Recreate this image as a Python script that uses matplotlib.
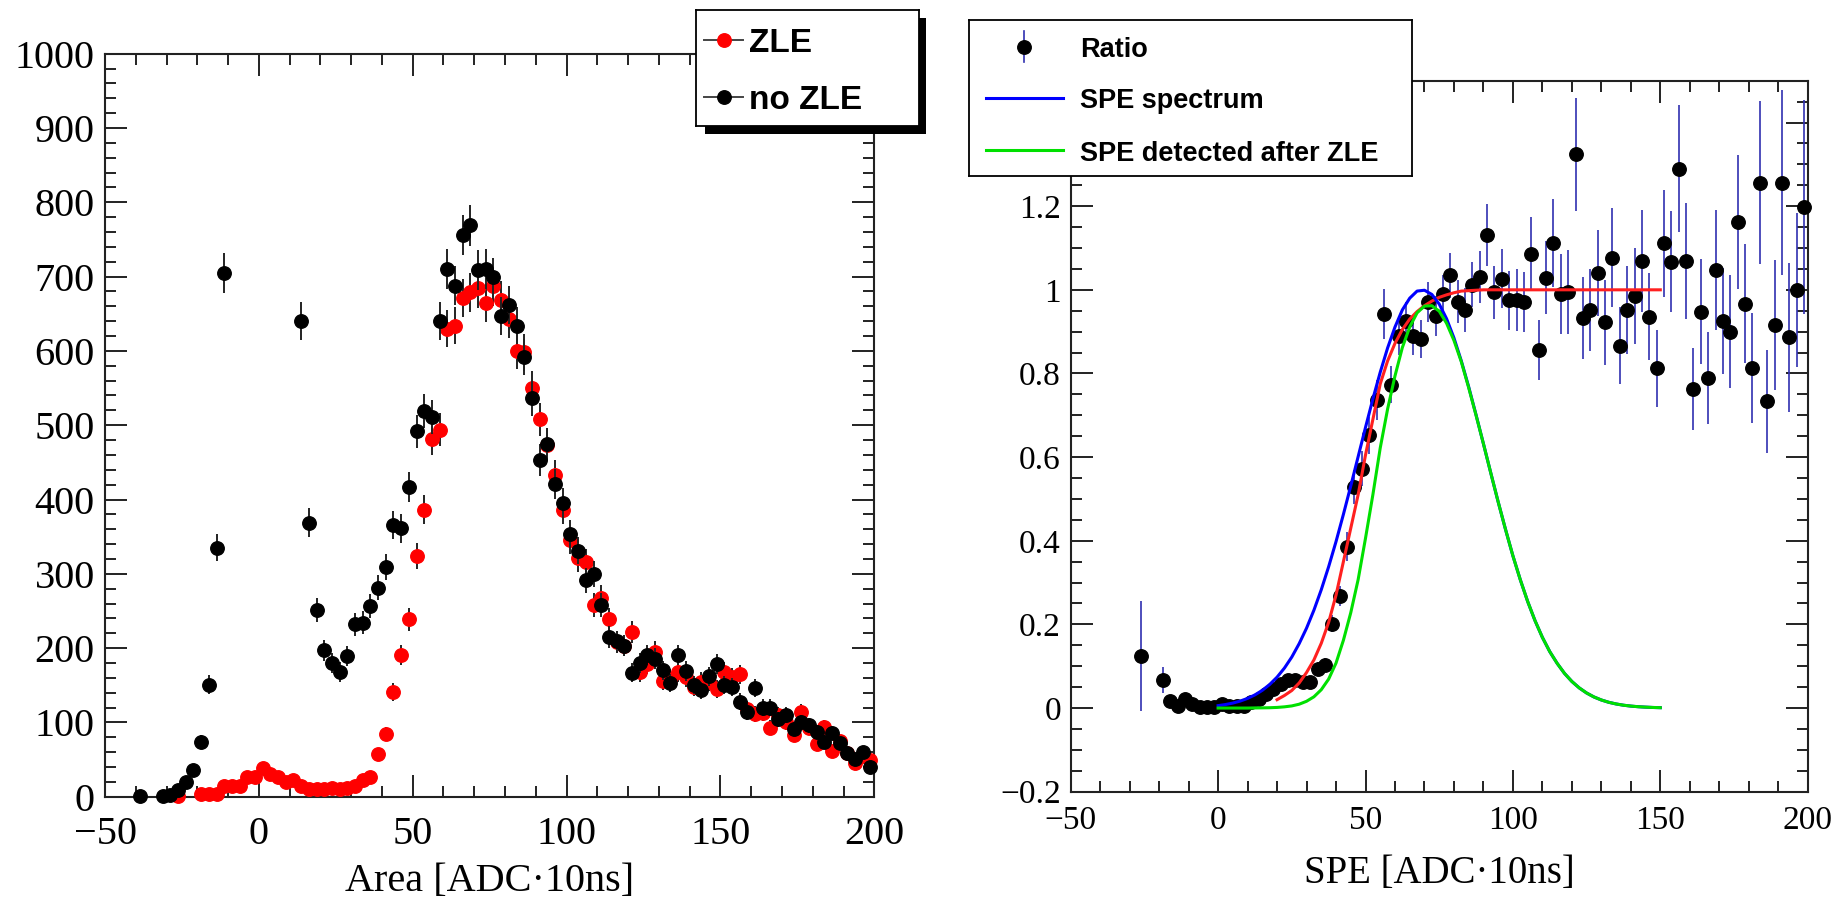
import numpy as np
import matplotlib
matplotlib.use("Agg")
import matplotlib.pyplot as plt
from matplotlib.ticker import MultipleLocator, FuncFormatter

plt.rcParams['font.family'] = ['Liberation Serif', 'DejaVu Serif']
plt.rcParams['axes.unicode_minus'] = True

# ---------------- data: left panel (counts per 2.5-wide bin) ----------------
bin_centers = np.arange(-48.75, 200.0, 2.5)   # 100 bins from -50 to 200
nan = np.nan
# "no ZLE" (black); bins -8.75 .. 11.25 are above the plotted range
noZLE_counts = [
    nan, nan, nan, nan, 1, nan, nan, 1, 2, 9,
    20, 36, 74, 151, 335, 705, nan, nan, nan, nan,
    nan, nan, nan, nan, nan, 640, 369, 251, 197, 180,
    168, 189, 232, 234, 257, 281, 309, 366, 361, 417,
    492, 519, 511, 640, 710, 688, 756, 769, 709, 710,
    699, 647, 662, 634, 592, 536, 453, 475, 421, 395,
    353, 331, 291, 300, 258, 215, 209, 203, 167, 180,
    191, 186, 170, 153, 191, 169, 150, 143, 162, 179,
    150, 148, 128, 114, 146, 120, 120, 104, 110, 91,
    100, 96, 87, 74, 86, 72, 59, 51, 60, 40,
]
# "ZLE" (red)
ZLE_counts = [
    nan, nan, nan, nan, nan, nan, nan, nan, nan, 1,
    nan, nan, 4, 4, 3, 15, 15, 15, 26, 26,
    38, 31, 27, 20, 23, 14, 11, 10, 11, 12,
    11, 12, 14, 23, 27, 57, 84, 141, 191, 239,
    324, 386, 482, 494, 630, 634, 671, 679, 684, 664,
    687, 668, 643, 600, 598, 550, 508, 474, 433, 386,
    345, 321, 316, 258, 268, 239, 208, 203, 222, 168,
    179, 195, 156, 159, 168, 161, 147, 155, 154, 145,
    168, 161, 165, 118, 111, 113, 93, 110, 100, 83,
    114, 93, 71, 94, 62, 75, 59, 46, 55, 49,
]

# ---------------- data: right panel (ratio ZLE / no ZLE) ----------------
ratio_x = np.concatenate([[-26.25], np.arange(-18.75, 200.0, 2.5)])
ratio_y = [
    0.124,
    0.068, 0.018, 0.006, 0.022, 0.009, 0.003, 0.003, 0.003, 0.009, 0.005,
    0.006, 0.006, 0.014, 0.022, 0.034, 0.046, 0.057, 0.066, 0.066, 0.062,
    0.062, 0.094, 0.104, 0.202, 0.268, 0.386, 0.528, 0.572, 0.652, 0.737,
    0.942, 0.773, 0.890, 0.926, 0.890, 0.882, 0.970, 0.938, 0.990, 1.035,
    0.972, 0.951, 1.012, 1.031, 1.131, 0.994, 1.027, 0.975, 0.975, 0.970,
    1.085, 0.856, 1.029, 1.111, 0.990, 0.995, 1.324, 0.932, 0.951, 1.041,
    0.922, 1.077, 0.866, 0.951, 0.986, 1.069, 0.936, 0.813, 1.111, 1.067,
    1.290, 1.069, 0.764, 0.948, 0.789, 1.048, 0.926, 0.900, 1.162, 0.967,
    0.813, 1.256, 0.733, 0.916, 1.256, 0.886, 0.999, 1.198,
]
ratio_err = [
    0.131,
    0.031, 0.012, 0.006, 0.010, 0.004, 0.004, 0.004, 0.004, 0.004, 0.004,
    0.004, 0.004, 0.006, 0.007, 0.008, 0.009, 0.010, 0.010, 0.011, 0.011,
    0.012, 0.015, 0.016, 0.020, 0.024, 0.035, 0.040, 0.042, 0.045, 0.048,
    0.060, 0.044, 0.046, 0.046, 0.046, 0.046, 0.048, 0.048, 0.045, 0.054,
    0.052, 0.053, 0.054, 0.062, 0.074, 0.064, 0.070, 0.070, 0.074, 0.072,
    0.088, 0.072, 0.088, 0.105, 0.095, 0.100, 0.135, 0.098, 0.098, 0.103,
    0.101, 0.119, 0.092, 0.105, 0.115, 0.123, 0.105, 0.092, 0.127, 0.121,
    0.152, 0.139, 0.098, 0.125, 0.109, 0.143, 0.127, 0.135, 0.160, 0.143,
    0.131, 0.195, 0.123, 0.155, 0.221, 0.177, 0.184, 0.256,
]

curve_x = np.arange(0.0, 150.01, 2.5)
spe_spectrum = [
    0.0058, 0.0084, 0.0119, 0.0167, 0.0231, 0.0315, 0.0424, 0.0564, 0.0739, 0.0956,
    0.122, 0.154, 0.191, 0.234, 0.283, 0.338, 0.398, 0.463, 0.531, 0.601,
    0.671, 0.739, 0.803, 0.861, 0.911, 0.952, 0.980, 0.997, 0.999, 0.989,
    0.966, 0.931, 0.885, 0.830, 0.768, 0.701, 0.632, 0.562, 0.493, 0.427,
    0.364, 0.307, 0.255, 0.209, 0.169, 0.135, 0.107, 0.0829, 0.0636, 0.0482,
    0.0360, 0.0265, 0.0193, 0.0138, 0.0098, 0.0068, 0.0047, 0.0032, 0.0022, 0.0014,
    0.0009,
]
spe_after_zle = [
    0.0, 0.0, 0.0, 0.0, 0.0, 0.0003, 0.0005, 0.0008, 0.0015, 0.0029,
    0.0051, 0.0092, 0.0162, 0.0269, 0.0439, 0.0693, 0.1075, 0.162, 0.228, 0.307,
    0.406, 0.510, 0.622, 0.715, 0.794, 0.862, 0.911, 0.945, 0.961, 0.962,
    0.949, 0.920, 0.879, 0.828, 0.766, 0.700, 0.632, 0.562, 0.493, 0.427,
    0.364, 0.307, 0.255, 0.209, 0.169, 0.135, 0.107, 0.0829, 0.0636, 0.0482,
    0.0360, 0.0265, 0.0193, 0.0138, 0.0098, 0.0068, 0.0047, 0.0032, 0.0022, 0.0014,
    0.0009,
]
eff_x = np.arange(20.0, 150.01, 2.5)
eff_fit = [
    0.02, 0.03, 0.042, 0.06, 0.085, 0.115, 0.155, 0.205, 0.27, 0.35,
    0.43, 0.51, 0.605, 0.69, 0.775, 0.83, 0.872, 0.905, 0.93, 0.948,
    0.962, 0.973, 0.982, 0.988, 0.993, 0.997, 0.998, 0.999, 1.0, 1.0,
    1.0, 1.0, 1.0, 1.0, 1.0, 1.0, 1.0, 1.0, 1.0, 1.0,
    1.0, 1.0, 1.0, 1.0, 1.0, 1.0, 1.0, 1.0, 1.0, 1.0,
    1.0, 1.0, 1.0,
]

# ---------------- figure ----------------
W, H = 1834, 900
fig = plt.figure(figsize=(W / 100, H / 100), dpi=100)


def px_box(x0, y0, x1, y1):
    return [x0 / W, 1 - y1 / H, (x1 - x0) / W, (y1 - y0) / H]


axL = fig.add_axes(px_box(105, 53.7, 874.3, 796.7))
axR = fig.add_axes(px_box(1070.7, 80.7, 1807.7, 791.7))

SPINE = '#222222'


def style(ax, fs, xpad, ypad):
    ax.tick_params(which='both', direction='in', top=True, right=True,
                   color=SPINE, width=1.4, labelsize=fs)
    ax.tick_params(which='major', length=16)
    ax.tick_params(which='minor', length=8)
    ax.tick_params(axis='x', which='both', pad=xpad)
    ax.tick_params(axis='y', which='both', pad=ypad)
    for s in ax.spines.values():
        s.set_linewidth(1.5)
        s.set_color(SPINE)


# ---- left panel ----
bc = np.asarray(bin_centers)
zle = np.asarray(ZLE_counts, dtype=float)
nz = np.asarray(noZLE_counts, dtype=float)
mz = ~np.isnan(zle)
mn = ~np.isnan(nz)

c1 = axL.errorbar(bc[mz], zle[mz], yerr=np.sqrt(zle[mz]), fmt='o', ms=9.7,
                  mfc='#ff0000', mec='#ff0000', ecolor='#222222',
                  elinewidth=1.4, capsize=0, zorder=3)
c2 = axL.errorbar(bc[mn], nz[mn], yerr=np.sqrt(nz[mn]), fmt='o', ms=9.7,
                  mfc='black', mec='black', ecolor='#222222',
                  elinewidth=1.4, capsize=0, zorder=4)
for c in (c1, c2):
    c[0].set_clip_on(False)

axL.set_xlim(-50, 200)
axL.set_ylim(0, 1000)
axL.xaxis.set_major_locator(MultipleLocator(50))
axL.xaxis.set_minor_locator(MultipleLocator(10))
axL.yaxis.set_major_locator(MultipleLocator(100))
axL.yaxis.set_minor_locator(MultipleLocator(20))
style(axL, 29, 14.0, 7.4)
axL.set_xlabel('Area [ADC·10ns]', fontsize=29)
axL.xaxis.label.set_va('baseline')
axL.xaxis.set_label_coords(0.5, (796.7 - 891) / 743.0)

# ---- right panel ----
c3 = axR.errorbar(ratio_x, ratio_y, yerr=ratio_err, fmt='o', ms=9.7,
                  mfc='black', mec='black', ecolor='#3030b0',
                  elinewidth=1.2, capsize=0, zorder=3)
c3[0].set_clip_on(False)
axR.plot(eff_x, eff_fit, color='#ff2020', lw=2.2, zorder=4)
axR.plot(curve_x, spe_spectrum, color='#0000ff', lw=2.2, zorder=5)
axR.plot(curve_x, spe_after_zle, color='#00e000', lw=2.2, zorder=6)

axR.set_xlim(-50, 200)
axR.set_ylim(-0.2, 1.5)
axR.xaxis.set_major_locator(MultipleLocator(50))
axR.xaxis.set_minor_locator(MultipleLocator(10))
axR.yaxis.set_major_locator(MultipleLocator(0.2))
axR.yaxis.set_minor_locator(MultipleLocator(0.05))


def rfmt(v, pos):
    v = round(v, 6) + 0.0
    return f'{v:g}'.replace('-', '\u2212')


axR.yaxis.set_major_formatter(FuncFormatter(rfmt))
style(axR, 24, 9.6, 7.0)
axR.set_xlabel('SPE [ADC·10ns]', fontsize=28)
axR.xaxis.label.set_va('baseline')
axR.xaxis.set_label_coords(0.5, (791.7 - 883) / 711.0)


# ---------------- legends (drawn in pixel coordinates) ----------------
def box_axes(x0, y0, x1, y1, face='white', frame=True):
    a = fig.add_axes(px_box(x0, y0, x1, y1))
    a.set_xlim(x0, x1)
    a.set_ylim(y1, y0)
    a.set_xticks([])
    a.set_yticks([])
    a.set_facecolor(face)
    for s in a.spines.values():
        s.set_visible(frame)
        s.set_linewidth(1.3)
        s.set_color('black')
    return a


LEGFONT = dict(family=['Liberation Sans', 'DejaVu Sans'], fontweight='bold')

# left legend with shadow
box_axes(705, 18, 926, 133.5, face='black', frame=False)
lg1 = box_axes(695.5, 10, 918.5, 126)
for yrow, col, label in ((40, '#ff0000', 'ZLE'), (97, 'black', 'no ZLE')):
    lg1.plot([704, 743], [yrow, yrow], color='#444444', lw=1.4, clip_on=False)
    lg1.plot([723.6], [yrow], 'o', ms=9.7, color=col)
    lg1.text(749, yrow + 12, label, fontsize=24, va='baseline', **LEGFONT)

# right legend
lg2 = box_axes(968.5, 20, 1412, 176)
lg2.plot([1024, 1024], [30.7, 61.7], color='#3030b0', lw=1.2)
lg2.plot([1024], [46.7], 'o', ms=9.7, color='black')
lg2.text(1079.7, 56.7, 'Ratio', fontsize=19.5, va='baseline', **LEGFONT)
lg2.plot([985.6, 1062.6], [97.7, 97.7], color='#0000ff', lw=2.2)
lg2.text(1079.7, 108.3, 'SPE spectrum', fontsize=19.5, va='baseline', **LEGFONT)
lg2.plot([985.6, 1062.6], [150, 150], color='#00e000', lw=2.2)
lg2.text(1079.7, 161, 'SPE detected after ZLE', fontsize=19.5, va='baseline', **LEGFONT)

fig.savefig('out.png', dpi=100)
